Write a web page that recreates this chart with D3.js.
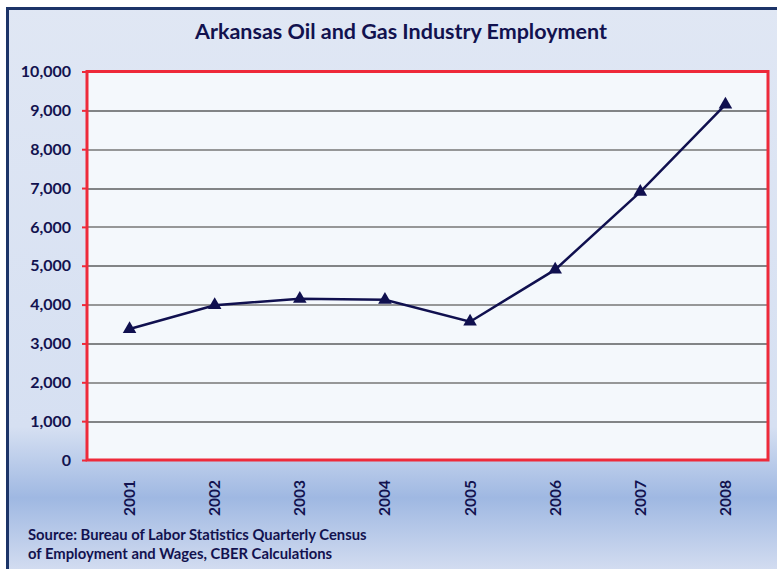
<!DOCTYPE html>
<html>
<head>
<meta charset="utf-8">
<script src="https://cdn.jsdelivr.net/npm/d3@7"></script>
<style>
  body { margin: 0; background: #ffffff; }
  text { font-family: Lato, "Open Sans", sans-serif; font-weight: bold; fill: #12124f; }
</style>
</head>
<body>
<div id="chart"></div>
<script>
// chart data
var years = ["2001", "2002", "2003", "2004", "2005", "2006", "2007", "2008"];
var employment = [3370, 3985, 4150, 4125, 3560, 4900, 6900, 9150];
var yTicks = [0, 1000, 2000, 3000, 4000, 5000, 6000, 7000, 8000, 9000, 10000];

var svgWidth = 777;
var svgHeight = 569;

var margin = { top: 71.5, right: 9, bottom: 109, left: 87 };
var chartWidth = svgWidth - margin.left - margin.right;
var chartHeight = svgHeight - margin.top - margin.bottom;

var svg = d3.select("#chart")
    .append("svg")
    .attr("width", svgWidth)
    .attr("height", svgHeight);

// background gradient with the blue band near the bottom
var defs = svg.append("defs");
var grad = defs.append("linearGradient")
    .attr("id", "bg")
    .attr("gradientUnits", "userSpaceOnUse")
    .attr("x1", 0).attr("y1", 0)
    .attr("x2", 0).attr("y2", svgHeight);
grad.append("stop").attr("offset", 0).attr("stop-color", "#e0e7f4");
grad.append("stop").attr("offset", 0.75).attr("stop-color", "#d6e0f2");
grad.append("stop").attr("offset", 0.875).attr("stop-color", "#9fb8e2");
grad.append("stop").attr("offset", 1).attr("stop-color", "#d2dcf0");

svg.append("rect")
    .attr("x", 7.5)
    .attr("y", 8.5)
    .attr("width", svgWidth + 20)
    .attr("height", svgHeight + 20)
    .attr("fill", "url(#bg)")
    .attr("stroke", "#1c3468")
    .attr("stroke-width", 3);

// title
svg.append("text")
    .attr("x", 401)
    .attr("y", 39)
    .attr("text-anchor", "middle")
    .style("font-size", "21.5px")
    .text("Arkansas Oil and Gas Industry Employment");

var chartGroup = svg.append("g")
    .attr("transform", `translate(${margin.left}, ${margin.top})`);

var xScale = d3.scaleBand()
    .domain(years)
    .range([0, chartWidth]);

var yScale = d3.scaleLinear()
    .domain([0, 10000])
    .range([chartHeight, 0]);

// plot area
chartGroup.append("rect")
    .attr("width", chartWidth)
    .attr("height", chartHeight)
    .attr("fill", "#f4f8fc");

// gridlines
chartGroup.append("g")
    .selectAll("line")
    .data(yTicks.filter(d => d > 0 && d < 10000))
    .enter()
    .append("line")
    .attr("x1", 0)
    .attr("x2", chartWidth)
    .attr("y1", d => Math.round(yScale(d)) + 0.5)
    .attr("y2", d => Math.round(yScale(d)) + 0.5)
    .attr("stroke", d => (d / 1000) % 2 === 0 ? "#777777" : "#111111")
    .attr("stroke-width", d => (d / 1000) % 2 === 0 ? 1.5 : 1);

// red border
chartGroup.append("rect")
    .attr("width", chartWidth)
    .attr("height", chartHeight)
    .attr("fill", "none")
    .attr("stroke", "#ee2a3a")
    .attr("stroke-width", 3);

// y axis
var yAxis = chartGroup.append("g")
    .call(d3.axisLeft(yScale).tickValues(yTicks).tickFormat(d3.format(",")).tickSize(5).tickPadding(11));
yAxis.select(".domain").remove();
yAxis.selectAll(".tick line").attr("stroke", "#ee2a3a").attr("stroke-width", 2);
yAxis.selectAll(".tick text")
    .attr("fill", "#12124f")
    .style("font-family", "Lato, sans-serif")
    .style("font-weight", "bold")
    .style("font-size", "16px");

// x axis labels, rotated
var xAxis = chartGroup.append("g")
    .attr("transform", `translate(0, ${chartHeight})`)
    .call(d3.axisBottom(xScale).tickSize(0));
xAxis.select(".domain").remove();
xAxis.selectAll(".tick text")
    .attr("transform", "rotate(-90)")
    .attr("x", -20)
    .attr("y", 0)
    .attr("dy", "0.35em")
    .attr("text-anchor", "end")
    .attr("fill", "#12124f")
    .style("font-family", "Lato, sans-serif")
    .style("font-weight", "bold")
    .style("font-size", "15.5px");

// line
var line = d3.line()
    .x((d, i) => xScale(years[i]) + xScale.bandwidth() / 2)
    .y(d => yScale(d));

chartGroup.append("path")
    .datum(employment)
    .attr("d", line)
    .attr("fill", "none")
    .attr("stroke", "#10104f")
    .attr("stroke-width", 2.5);

// triangle markers
chartGroup.append("g")
    .selectAll("path")
    .data(employment)
    .enter()
    .append("path")
    .attr("d", d3.symbol().type(d3.symbolTriangle).size(80))
    .attr("transform", (d, i) => `translate(${xScale(years[i]) + xScale.bandwidth() / 2}, ${yScale(d)})`)
    .attr("fill", "#10104f");

// source note
var source = svg.append("text")
    .attr("x", 28)
    .attr("y", 540)
    .style("font-size", "14.8px");
source.append("tspan").attr("x", 28).text("Source: Bureau of Labor Statistics Quarterly Census");
source.append("tspan").attr("x", 28).attr("dy", 19).text("of Employment and Wages, CBER  Calculations");
</script>
</body>
</html>
